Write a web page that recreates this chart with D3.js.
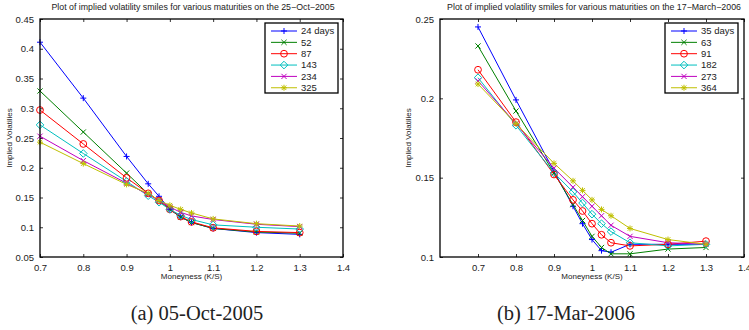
<!DOCTYPE html>
<html><head><meta charset="utf-8">
<script src="https://cdn.jsdelivr.net/npm/d3@7"></script>
<style>body{margin:0;background:#fff}svg{display:block}</style>
</head><body>
<svg id="c" width="749" height="330"></svg>
<script>
const moneyness = [0.7,0.8,0.9,0.95,0.975,1.0,1.025,1.05,1.1,1.2,1.3];

const leftLabels = ["24 days","52","87","143","234","325"];
const left24  = [0.411,0.317,0.219,0.173,0.152,0.130,0.117,0.108,0.098,0.091,0.088];
const left52  = [0.329,0.260,0.191,0.156,0.145,0.130,0.117,0.108,0.098,0.092,0.090];
const left87  = [0.297,0.240,0.183,0.157,0.145,0.130,0.118,0.109,0.099,0.093,0.091];
const left143 = [0.272,0.224,0.177,0.153,0.142,0.130,0.120,0.113,0.104,0.100,0.097];
const left234 = [0.253,0.212,0.174,0.155,0.145,0.134,0.125,0.119,0.113,0.105,0.101];
const left325 = [0.243,0.207,0.172,0.157,0.145,0.137,0.130,0.124,0.114,0.106,0.102];

const rightLabels = ["35 days","63","91","182","273","364"];
const right35  = [0.245,0.199,0.154,0.132,0.121,0.111,0.104,0.103,0.108,0.108,0.108];
const right63  = [0.233,0.192,0.153,0.133,0.123,0.113,0.106,0.102,0.102,0.105,0.106];
const right91  = [0.218,0.185,0.152,0.136,0.129,0.121,0.114,0.109,0.107,0.108,0.110];
const right182 = [0.213,0.183,0.153,0.141,0.134,0.127,0.121,0.116,0.109,0.107,0.108];
const right273 = [0.211,0.184,0.156,0.144,0.138,0.132,0.126,0.120,0.113,0.109,0.108];
const right364 = [0.209,0.184,0.159,0.148,0.142,0.136,0.130,0.126,0.118,0.111,0.108];

const leftXTicks = [0.7,0.8,0.9,1,1.1,1.2,1.3,1.4];
const leftYTicks = [0.05,0.1,0.15,0.2,0.25,0.3,0.35,0.4,0.45];
const rightXTicks = [0.7,0.8,0.9,1,1.1,1.2,1.3,1.4];
const rightYTicks = [0.1,0.15,0.2,0.25];

const colors = ["#0000ff","#008000","#ff0000","#00bfbf","#bf00bf","#bfbf00"];
const markers = ["plus","x","circle","diamond","x","star"];

const svg = d3.select("#c");
const SANS = "'Liberation Sans', Arial, Helvetica, sans-serif";

function marker(g, type, x, y, color) {
  const s = 3;
  if (type === "plus" || type === "star") {
    g.append("path").attr("d", `M${x-s},${y}H${x+s}M${x},${y-s}V${y+s}`).attr("stroke", color).attr("stroke-width", 1).attr("fill","none");
  }
  if (type === "x" || type === "star") {
    const t = type === "star" ? 2.3 : 2.6;
    g.append("path").attr("d", `M${x-t},${y-t}L${x+t},${y+t}M${x-t},${y+t}L${x+t},${y-t}`).attr("stroke", color).attr("stroke-width", 1).attr("fill","none");
  }
  if (type === "circle") {
    g.append("circle").attr("cx", x).attr("cy", y).attr("r", 3.4).attr("stroke", color).attr("stroke-width", 1).attr("fill","none");
  }
  if (type === "diamond") {
    const d = 3.8;
    g.append("path").attr("d", `M${x},${y-d}L${x+d},${y}L${x},${y+d}L${x-d},${y}Z`).attr("stroke", color).attr("stroke-width", 1).attr("fill","none");
  }
}

function panel(opts) {
  const {x0, x1, y0, y1, xDomain, yDomain, xTicks, yTicks, series, labels, title, titleX, legendX, caption, captionX, ylabelX} = opts;
  const g = svg.append("g");
  const x = d3.scaleLinear().domain(xDomain).range([x0, x1]);
  const y = d3.scaleLinear().domain(yDomain).range([y1, y0]);

  const fmt = d => String(+d.toFixed(2));
  const tl = 3;
  const ax = g.append("g").attr("transform", `translate(0,${y1})`)
    .call(d3.axisBottom(x).tickValues(xTicks).tickFormat(fmt).tickSizeInner(-tl).tickSizeOuter(0).tickPadding(7));
  const ay = g.append("g").attr("transform", `translate(${x0},0)`)
    .call(d3.axisLeft(y).tickValues(yTicks).tickFormat(fmt).tickSizeInner(-tl).tickSizeOuter(0).tickPadding(6));
  const at = g.append("g").attr("transform", `translate(0,${y0})`)
    .call(d3.axisTop(x).tickValues(xTicks).tickFormat("").tickSizeInner(-tl).tickSizeOuter(0));
  const ar = g.append("g").attr("transform", `translate(${x1},0)`)
    .call(d3.axisRight(y).tickValues(yTicks).tickFormat("").tickSizeInner(-tl).tickSizeOuter(0));
  [ax, ay, at, ar].forEach(a => {
    a.select(".domain").remove();
    a.selectAll("line").attr("stroke", "#000").attr("stroke-width", 0.8);
    a.selectAll("text").attr("font-family", SANS).attr("font-size", 9.5).attr("fill", "#222");
  });

  const line = d3.line().x((d,i) => x(moneyness[i])).y(d => y(d));
  series.forEach((s, k) => {
    g.append("path").datum(s).attr("d", line).attr("fill","none").attr("stroke", colors[k]).attr("stroke-width", 1);
  });
  series.forEach((s, k) => {
    s.forEach((v, i) => marker(g, markers[k], x(moneyness[i]), y(v), colors[k]));
  });

  g.append("rect").attr("x", x0).attr("y", y0).attr("width", x1-x0).attr("height", y1-y0)
    .attr("fill","none").attr("stroke","#000").attr("stroke-width", 1.3);

  const lx = legendX, ly = 23, lw = 73, lh = 70;
  const lg = g.append("g");
  lg.append("rect").attr("x", lx).attr("y", ly).attr("width", lw).attr("height", lh)
    .attr("fill","#fff").attr("stroke","#000").attr("stroke-width", 1.3);
  labels.forEach((lab, k) => {
    const yy = ly + 8 + k * 11.35;
    lg.append("line").attr("x1", lx+6).attr("x2", lx+32).attr("y1", yy).attr("y2", yy)
      .attr("stroke", colors[k]).attr("stroke-width", 1);
    marker(lg, markers[k], lx+19, yy, colors[k]);
    lg.append("text").attr("x", lx+36).attr("y", yy+3.3).text(lab)
      .attr("font-family", SANS).attr("font-size", 9.5).attr("fill", "#222");
  });

  g.append("text").attr("x", titleX).attr("y", 10).attr("text-anchor","middle")
    .attr("font-family", SANS).attr("font-size", 8.8).attr("fill", "#222").text(title);
  g.append("text").attr("x", (x0+x1)/2).attr("y", 279).attr("text-anchor","middle")
    .attr("font-family", SANS).attr("font-size", 8).attr("fill", "#222").text("Moneyness (K/S)");
  g.append("text").attr("transform", `translate(${ylabelX},${(y0+y1)/2}) rotate(-90)`).attr("text-anchor","middle")
    .attr("font-family", SANS).attr("font-size", 8).attr("fill", "#222").text("Implied Volatilies");
  g.append("text").attr("x", captionX).attr("y", 320).attr("text-anchor","middle")
    .attr("font-family", "'Liberation Serif', 'DejaVu Serif', serif").attr("font-size", 20.5).attr("fill", "#222").text(caption);
}

panel({
  x0: 40, x1: 343, y0: 19, y1: 257,
  xDomain: [0.7, 1.4], yDomain: [0.05, 0.45],
  xTicks: leftXTicks, yTicks: leftYTicks,
  series: [left24, left52, left87, left143, left234, left325],
  labels: leftLabels,
  title: "Plot of implied volatility smiles for various maturities on the 25\u2212Oct\u22122005",
  titleX: 193,
  legendX: 265, caption: "(a) 05-Oct-2005", captionX: 197, ylabelX: 12
});
panel({
  x0: 440, x1: 744, y0: 19, y1: 257,
  xDomain: [0.6, 1.4], yDomain: [0.1, 0.25],
  xTicks: rightXTicks, yTicks: rightYTicks,
  series: [right35, right63, right91, right182, right273, right364],
  labels: rightLabels,
  title: "Plot of implied volatility smiles for various maturities on the 17\u2212March\u22122006",
  titleX: 594,
  legendX: 665, caption: "(b) 17-Mar-2006", captionX: 566, ylabelX: 411
});
</script>
</body></html>
